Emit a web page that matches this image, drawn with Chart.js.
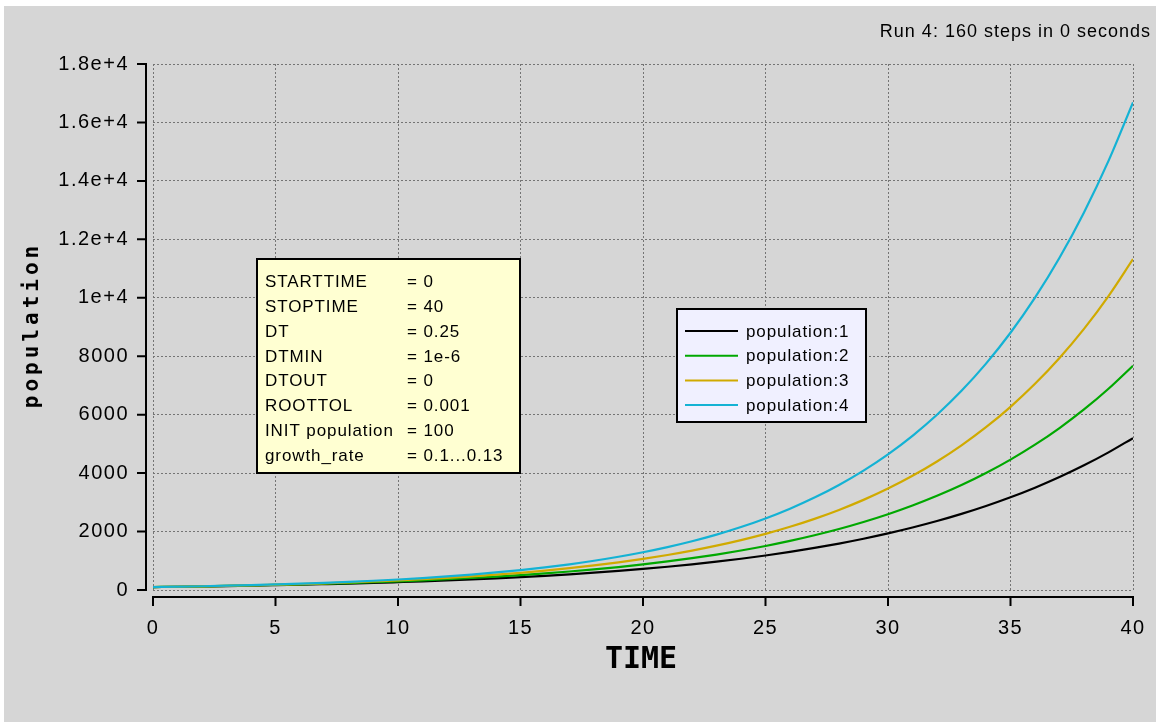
<!DOCTYPE html>
<html>
<head>
<meta charset="utf-8">
<title>population</title>
<script src="https://cdn.jsdelivr.net/npm/chart.js@4.4.1/dist/chart.umd.min.js"></script>
<style>
  html, body { margin: 0; padding: 0; background: #fff; }
  #wrap { width: 1156px; height: 722px; }
</style>
</head>
<body>
<div id="wrap"><canvas id="popChart" width="1156" height="722"></canvas></div>
<script>
// values (one point per time unit)
const times = [0,1,2,3,4,5,6,7,8,9,10,11,12,13,14,15,16,17,18,19,20,21,22,23,24,25,26,27,28,29,30,31,32,33,34,35,36,37,38,39,40];
const pop1 = [100,110,122,134,148,164,181,200,220,243,269,296,327,361,399,440,486,536,592,653,721,796,878,970,1070,1181,1304,1439,1589,1754,1936,2137,2359,2604,2874,3172,3501,3865,4266,4709,5198];
const pop2 = [100,111,124,138,154,172,192,214,238,266,296,330,368,410,457,509,568,633,705,786,876,977,1088,1213,1352,1507,1680,1873,2087,2327,2593,2891,3222,3591,4003,4462,4973,5543,6178,6887,7676];
const pop3 = [100,113,127,143,160,181,203,229,258,290,326,367,413,465,523,589,663,746,840,945,1064,1198,1348,1517,1708,1922,2163,2435,2740,3084,3471,3907,4397,4949,5570,6269,7056,7942,8938,10060,11323];
const pop4 = [100,114,129,147,167,190,215,245,278,316,359,409,464,528,600,681,774,880,1000,1137,1292,1468,1669,1896,2155,2449,2783,3163,3595,4086,4643,5277,5997,6815,7746,8803,10004,11369,12921,14684,16688];

const seriesNames = ['population:1', 'population:2', 'population:3', 'population:4'];
const xTickLabels = ['0', '5', '10', '15', '20', '25', '30', '35', '40'];
const yTickLabels = ['0', '2000', '4000', '6000', '8000', '1e+4', '1.2e+4', '1.4e+4', '1.6e+4', '1.8e+4'];

const paramNames = ['STARTTIME', 'STOPTIME', 'DT', 'DTMIN', 'DTOUT', 'ROOTTOL', 'INIT population', 'growth_rate'];
const paramValues = ['= 0', '= 40', '= 0.25', '= 1e-6', '= 0', '= 0.001', '= 100', '= 0.1...0.13'];
const runNote = 'Run 4: 160 steps in 0 seconds';

const colors = ['#000000', '#00a800', '#d0aa00', '#14b2d4'];
const SANS = '"Liberation Sans", Arial, Helvetica, sans-serif';
const MONO = '"DejaVu Sans Mono", monospace';

function points(vals) {
    return vals.map((v, i) => ({ x: times[i], y: v }));
}

// gray page, axes drawn off the plot area, parameter box and legend
const madonnaFrame = {
    id: 'madonnaFrame',
    beforeDraw(chart) {
        const ctx = chart.ctx;
        ctx.save();
        ctx.fillStyle = '#d6d6d6';
        ctx.fillRect(4, 6, chart.width - 4, chart.height - 6);
        ctx.restore();
        ctx.letterSpacing = '1.5px';
    },
    afterDraw(chart) {
        const ctx = chart.ctx;
        const area = chart.chartArea;
        const xs = chart.scales.x;
        const ys = chart.scales.y;
        ctx.save();
        ctx.strokeStyle = '#000';
        ctx.lineWidth = 2;

        // y axis
        const ax = area.left - 7;
        ctx.beginPath();
        ctx.moveTo(ax, ys.getPixelForValue(ys.max) - 1);
        ctx.lineTo(ax, ys.getPixelForValue(ys.min) + 1);
        ys.ticks.forEach(t => {
            const y = ys.getPixelForValue(t.value);
            ctx.moveTo(ax - 9, y);
            ctx.lineTo(ax, y);
        });
        ctx.stroke();

        // x axis
        const ay = area.bottom + 7;
        ctx.beginPath();
        ctx.moveTo(xs.getPixelForValue(xs.min) - 1, ay);
        ctx.lineTo(xs.getPixelForValue(xs.max) + 1, ay);
        xs.ticks.forEach(t => {
            const x = xs.getPixelForValue(t.value);
            ctx.moveTo(x, ay);
            ctx.lineTo(x, ay + 9);
        });
        ctx.stroke();

        ctx.fillStyle = '#000';

        // axis titles
        ctx.save();
        ctx.translate(33, (area.top + area.bottom) / 2);
        ctx.rotate(-Math.PI / 2);
        ctx.font = 'bold 21px ' + MONO;
        ctx.letterSpacing = '4px';
        ctx.textAlign = 'center';
        ctx.textBaseline = 'middle';
        ctx.fillText('population', 2, 0);
        ctx.restore();

        ctx.font = 'bold 30px ' + MONO;
        ctx.letterSpacing = '0px';
        ctx.textAlign = 'center';
        ctx.textBaseline = 'middle';
        ctx.fillText('TIME', 641, 660);

        // run note
        ctx.font = '18px ' + SANS;
        ctx.letterSpacing = '1px';
        ctx.textAlign = 'right';
        ctx.textBaseline = 'alphabetic';
        ctx.fillText(runNote, 1151, 37);

        // parameter box
        ctx.fillStyle = '#ffffd2';
        ctx.fillRect(257, 259, 263, 214);
        ctx.strokeRect(257, 259, 263, 214);
        ctx.fillStyle = '#000';
        ctx.font = '17px ' + SANS;
        ctx.letterSpacing = '0.9px';
        ctx.textAlign = 'left';
        paramNames.forEach((name, i) => {
            const y = 287 + i * 24.86;
            ctx.fillText(name, 265, y);
            ctx.fillText(paramValues[i], 407, y);
        });

        // legend
        ctx.fillStyle = '#f0f0ff';
        ctx.fillRect(677, 309, 189, 113);
        ctx.strokeRect(677, 309, 189, 113);
        ctx.textBaseline = 'middle';
        chart.data.datasets.forEach((ds, i) => {
            const y = 331 + i * 24.7;
            ctx.strokeStyle = ds.borderColor;
            ctx.beginPath();
            ctx.moveTo(685, y);
            ctx.lineTo(738, y);
            ctx.stroke();
            ctx.fillStyle = '#000';
            ctx.fillText(ds.label, 746, y + 1);
        });
        ctx.restore();
    }
};

const ctx = document.getElementById('popChart').getContext('2d');

const popChart = new Chart(ctx, {
    type: 'line',
    data: {
        datasets: [pop1, pop2, pop3, pop4].map((vals, i) => ({
            label: seriesNames[i],
            data: points(vals),
            borderColor: colors[i],
            borderWidth: 2.2,
            pointRadius: 0,
            fill: false,
            cubicInterpolationMode: 'monotone',
            order: 4 - i
        }))
    },
    options: {
        responsive: false,
        animation: false,
        devicePixelRatio: 1,
        layout: { padding: { left: 0, top: 64, right: 23, bottom: 0 } },
        scales: {
            x: {
                type: 'linear',
                min: 0,
                max: 40,
                afterFit: s => {
                    s.height = 132;
                    s.paddingLeft = 0;
                    s.paddingRight = 0;
                },
                ticks: {
                    stepSize: 5,
                    padding: 26,
                    color: '#000',
                    font: { family: SANS, size: 20 },
                    maxRotation: 0,
                    callback: (v) => xTickLabels[v / 5]
                },
                grid: { color: '#747474', lineWidth: 1, drawTicks: false },
                border: { display: false, dash: [2, 2] }
            },
            y: {
                min: 0,
                max: 18000,
                afterFit: s => {
                    s.width = 153;
                    s.paddingTop = 0;
                    s.paddingBottom = 0;
                },
                ticks: {
                    stepSize: 2000,
                    padding: 24,
                    color: '#000',
                    font: { family: SANS, size: 20 },
                    callback: (v) => yTickLabels[v / 2000]
                },
                grid: { color: '#747474', lineWidth: 1, drawTicks: false },
                border: { display: false, dash: [2, 2] }
            }
        },
        plugins: {
            legend: { display: false },
            tooltip: { enabled: false }
        }
    },
    plugins: [madonnaFrame]
});
</script>
</body>
</html>
